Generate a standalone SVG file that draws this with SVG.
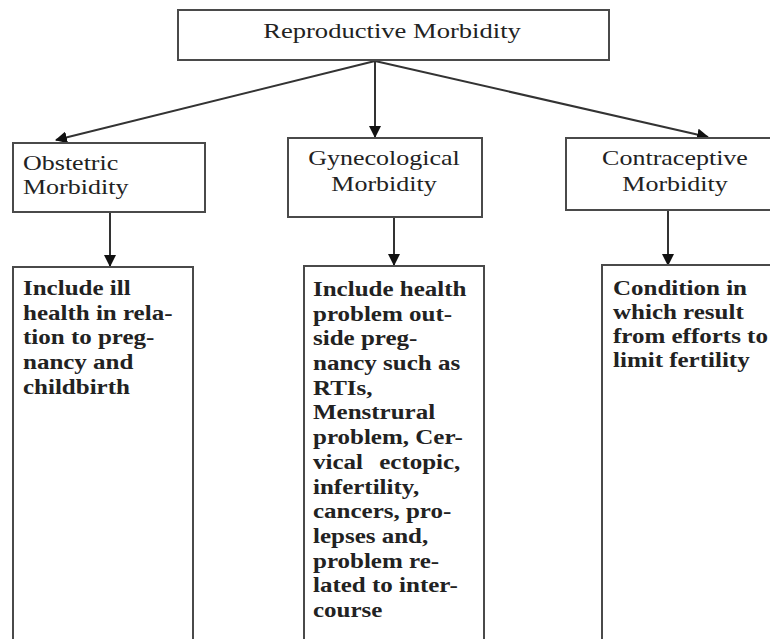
<svg xmlns="http://www.w3.org/2000/svg" width="770" height="639" viewBox="0 0 770 639">
<style>
.box{fill:#fff;stroke:#4a4a4a;stroke-width:2}
.t{font-family:"Liberation Serif","Times New Roman",serif;font-size:20px;fill:#222}
.b{font-family:"Liberation Serif","Times New Roman",serif;font-size:20px;font-weight:bold;fill:#222}
.c{text-anchor:middle}
.ln{stroke:#333;stroke-width:2;fill:none}
</style>
<defs>
<marker id="ah" markerWidth="12" markerHeight="12" refX="11" refY="6" orient="auto" markerUnits="userSpaceOnUse">
<path d="M0,0 L12,6 L0,12 Z" fill="#111"/>
</marker>
</defs>
<rect width="770" height="639" fill="#fff"/>
<g id="connectors">
<line class="ln" x1="375" y1="61" x2="56" y2="140" marker-end="url(#ah)"/>
<line class="ln" x1="375" y1="61" x2="375" y2="137" marker-end="url(#ah)"/>
<line class="ln" x1="375" y1="61" x2="708" y2="137" marker-end="url(#ah)"/>
<line class="ln" x1="110" y1="212" x2="110" y2="266" marker-end="url(#ah)"/>
<line class="ln" x1="394" y1="217" x2="394" y2="265" marker-end="url(#ah)"/>
<line class="ln" x1="668" y1="210" x2="668" y2="265" marker-end="url(#ah)"/>
</g>
<g id="root">
<rect class="box" x="178" y="10" width="431" height="50"/>
<text class="t c" transform="matrix(1.33 0 0 1 392 38)">Reproductive Morbidity</text>
</g>
<g id="obstetric">
<rect class="box" x="13" y="143" width="192" height="69"/>
<g transform="translate(23 0) scale(1.3 1)"><text class="t"><tspan x="0" y="170">Obstetric</tspan><tspan x="0" y="194">Morbidity</tspan></text></g>
</g>
<g id="gynecological">
<rect class="box" x="288" y="138" width="194" height="79"/>
<g transform="translate(384 0) scale(1.3 1)"><text class="t c"><tspan x="0" y="165">Gynecological</tspan><tspan x="0" y="191">Morbidity</tspan></text></g>
</g>
<g id="contraceptive">
<rect class="box" x="566" y="138" width="220" height="72"/>
<g transform="translate(675 0) scale(1.3 1)"><text class="t c"><tspan x="0" y="165">Contraceptive</tspan><tspan x="0" y="191">Morbidity</tspan></text></g>
</g>
<g id="obstetric-desc">
<rect class="box" x="13" y="267" width="180" height="380"/>
<g transform="translate(23 0) scale(1.25 1)"><text class="b"><tspan x="0" y="295">Include ill</tspan><tspan x="0" y="319.7">health in rela-</tspan><tspan x="0" y="344.4">tion to preg-</tspan><tspan x="0" y="369.1">nancy and</tspan><tspan x="0" y="393.8">childbirth</tspan></text></g>
</g>
<g id="gynecological-desc">
<rect class="box" x="304" y="266" width="180" height="380"/>
<g transform="translate(313 0) scale(1.25 1)"><text class="b"><tspan x="0" y="296">Include health</tspan><tspan x="0" y="320.7">problem out-</tspan><tspan x="0" y="345.4">side preg-</tspan><tspan x="0" y="370.1">nancy such as</tspan><tspan x="0" y="394.8">RTIs,</tspan><tspan x="0" y="419.5">Menstrural</tspan><tspan x="0" y="444.2">problem, Cer-</tspan><tspan x="0" y="468.9" word-spacing="8">vical ectopic,</tspan><tspan x="0" y="493.6">infertility,</tspan><tspan x="0" y="518.3">cancers, pro-</tspan><tspan x="0" y="543">lepses and,</tspan><tspan x="0" y="567.7">problem re-</tspan><tspan x="0" y="592.4">lated to inter-</tspan><tspan x="0" y="617.1">course</tspan></text></g>
</g>
<g id="contraceptive-desc">
<rect class="box" x="602" y="265" width="190" height="380"/>
<g transform="translate(613 0) scale(1.25 1)"><text class="b"><tspan x="0" y="295">Condition in</tspan><tspan x="0" y="319">which result</tspan><tspan x="0" y="343">from efforts to</tspan><tspan x="0" y="367">limit fertility</tspan></text></g>
</g>
</svg>
